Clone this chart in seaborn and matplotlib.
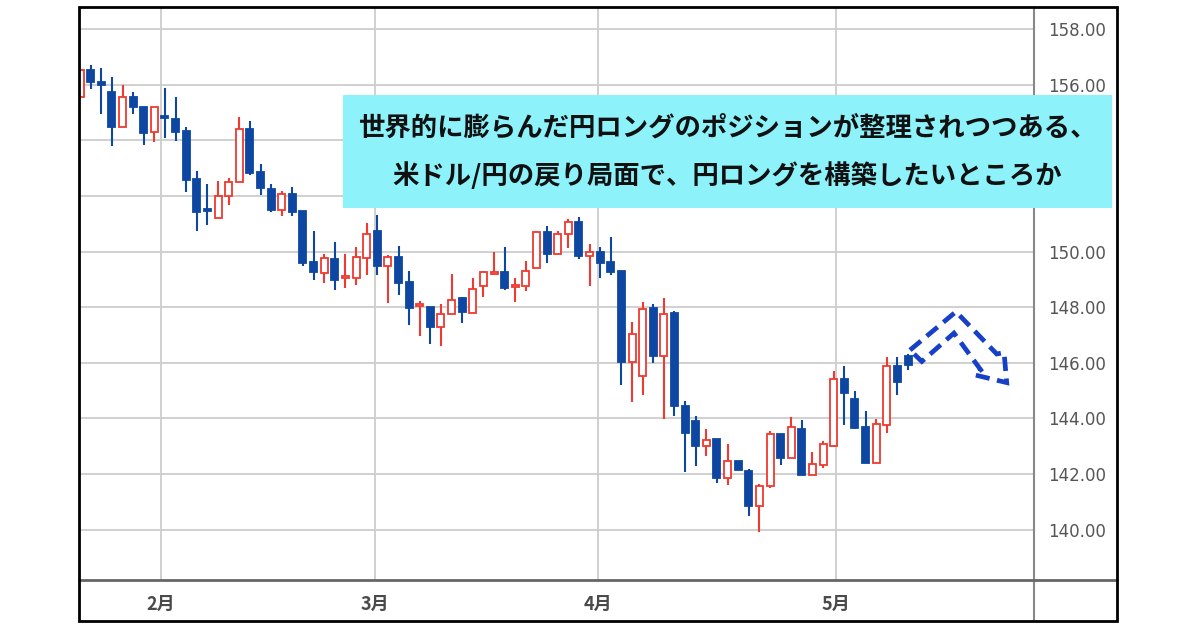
import matplotlib
matplotlib.use('Agg')
import matplotlib.pyplot as plt
import seaborn as sns
import numpy as np
import pandas as pd
from matplotlib.patches import Rectangle, Polygon
from matplotlib.lines import Line2D

# 日足 (USD/JPY), 1月下旬〜5月上旬
opens = [155.55, 156.55, 156.09, 155.76, 154.50, 155.55, 155.22, 154.29, 154.83, 154.76,
         154.33, 152.60, 151.50, 151.20, 151.99, 152.50, 154.40, 152.85, 152.24, 151.49,
         152.06, 151.45, 149.62, 149.23, 149.73, 149.05, 149.05, 149.77, 150.74, 149.48,
         149.80, 148.90, 148.05, 148.00, 147.29, 147.76, 148.33, 147.79, 148.76, 149.19,
         149.26, 148.73, 148.76, 149.41, 150.70, 149.91, 150.63, 151.06, 149.84, 149.98,
         149.62, 149.30, 146.03, 145.53, 147.97, 146.25, 147.79, 144.45, 143.91, 143.02,
         143.27, 141.87, 142.48, 142.12, 140.86, 141.58, 143.45, 142.59, 143.63, 141.98,
         142.33, 143.02, 145.42, 144.70, 143.70, 142.41, 143.77, 145.89, 146.25]
highs = [156.55, 156.73, 156.62, 156.27, 156.01, 155.76, 155.22, 155.22, 155.90, 155.55,
         154.47, 152.89, 152.42, 152.53, 152.64, 154.83, 154.69, 153.14, 152.42, 152.17,
         152.31, 151.45, 150.74, 149.91, 150.34, 149.91, 150.16, 151.02, 151.31, 149.87,
         150.20, 149.30, 148.22, 148.00, 148.11, 149.19, 148.37, 149.05, 149.30, 149.98,
         150.16, 149.05, 149.66, 150.74, 150.92, 150.74, 151.17, 151.24, 150.27, 150.16,
         150.52, 149.30, 147.47, 148.19, 148.11, 148.33, 147.86, 144.63, 144.09, 143.63,
         143.27, 143.09, 142.48, 142.19, 141.65, 143.55, 143.45, 144.06, 143.95, 142.80,
         143.20, 145.71, 145.89, 144.99, 144.27, 143.99, 146.21, 146.21, 146.32]
lows = [155.55, 155.84, 154.94, 153.79, 154.50, 154.94, 153.82, 153.93, 154.08, 153.97,
        152.14, 150.76, 150.95, 151.20, 151.67, 152.50, 152.75, 152.03, 151.42, 151.27,
        151.27, 149.48, 148.98, 148.87, 148.62, 148.69, 148.80, 149.16, 149.16, 148.15,
        148.44, 147.36, 146.97, 146.68, 146.61, 147.76, 147.43, 147.79, 148.37, 149.16,
        148.62, 148.19, 148.58, 149.41, 149.59, 149.87, 150.13, 149.73, 148.76, 149.05,
        149.16, 145.21, 144.60, 144.85, 146.00, 143.99, 144.09, 142.08, 142.30, 142.66,
        141.69, 141.62, 142.15, 140.50, 139.93, 141.51, 142.33, 142.59, 141.98, 141.98,
        142.23, 142.98, 143.77, 143.63, 142.41, 142.41, 143.48, 144.85, 145.75]
closes = [156.55, 156.09, 156.01, 154.50, 155.55, 155.22, 154.25, 155.19, 154.80, 154.29,
          152.57, 151.42, 151.45, 151.99, 152.50, 154.40, 152.82, 152.28, 151.49, 152.06,
          151.42, 149.59, 149.26, 149.77, 148.98, 149.12, 149.80, 150.63, 149.48, 149.80,
          148.87, 147.97, 148.08, 147.29, 147.76, 148.26, 147.83, 148.65, 149.26, 149.26,
          148.69, 148.80, 149.30, 150.70, 149.91, 150.63, 151.06, 149.84, 149.98, 149.59,
          149.26, 146.03, 147.04, 147.94, 146.25, 147.76, 144.45, 143.48, 143.02, 143.23,
          141.87, 142.48, 142.15, 140.86, 141.58, 143.45, 142.59, 143.70, 141.98, 142.37,
          143.09, 145.42, 144.92, 143.66, 142.41, 143.81, 145.89, 145.31, 145.92]

month_labels = ['2月', '3月', '4月', '5月']
month_pos = [7.6, 27.8, 48.8, 71.2]
price_ticks = [140, 142, 144, 146, 148, 150, 152, 154, 156, 158]
hidden_ticks = [152, 154]   # コメント枠の下に隠れる目盛

# 今後の想定（点線の矢印）
arrow_x = [78.19, 82.52, 86.36, 87.05, 87.30, 84.25, 84.85, 82.33, 79.30]
arrow_y = [146.46, 147.84, 146.32, 146.37, 145.29, 145.57, 145.75, 147.07, 146.05]

title_lines = ['世界的に膨らんだ円ロングのポジションが整理されつつある、',
               '米ドル/円の戻り局面で、円ロングを構築したいところか']

UP = '#f0392f'
DOWN = '#0d47a1'

sns.set_theme(style='white')
plt.rcParams['font.family'] = ['Noto Sans CJK JP', 'DejaVu Sans']

df = pd.DataFrame({'open': opens, 'high': highs, 'low': lows, 'close': closes})
df['idx'] = np.arange(len(df))
df['up'] = df['close'] >= df['open']
df['body_lo'] = df[['open', 'close']].min(axis=1)
df['body_h'] = (df['close'] - df['open']).abs().clip(lower=0.07)

fig = plt.figure(figsize=(12, 6.3), dpi=100)
ax = fig.add_axes([79 / 1200, 50 / 630, 955 / 1200, 573 / 630])

# ひげ
ax.vlines(df['idx'], df['low'], df['high'],
          colors=np.where(df['up'], UP, DOWN), linewidth=1.5, zorder=2)
# 実体（陽線は白抜き）
ax.bar(df['idx'], df['body_h'], bottom=df['body_lo'], width=0.66,
       color=np.where(df['up'], 'white', DOWN),
       edgecolor=np.where(df['up'], UP, DOWN), linewidth=1.3, zorder=3)

ax.add_patch(Polygon(np.column_stack([arrow_x, arrow_y]), closed=True, fill=False,
                     edgecolor='#1640c8', linewidth=3.4, linestyle=(0, (3, 1.6)),
                     joinstyle='miter', zorder=5))

ax.set_xlim(-0.1, 89.87)
ax.set_ylim(138.19, 158.8)
ax.set_xticks(month_pos)
ax.set_xticklabels(month_labels, fontsize=13, fontweight='bold', color='#4a4a4a')
ax.yaxis.tick_right()
ax.set_yticks(price_ticks)
ax.set_yticklabels(['' if p in hidden_ticks else f'{p:.2f}' for p in price_ticks],
                   fontsize=12, color='#555555', family='DejaVu Sans')
ax.tick_params(axis='x', length=0, pad=11)
ax.tick_params(axis='y', length=0, pad=10)
ax.grid(True, color='#cdcdcd', linewidth=1.3)
ax.set_axisbelow(True)
for s in ax.spines.values():
    s.set_visible(False)

# 枠線
fig.add_artist(Rectangle((79 / 1200, 1 - 621 / 630), 1038 / 1200, 614 / 630,
                         transform=fig.transFigure, fill=False,
                         edgecolor='black', linewidth=2, zorder=8))
fig.add_artist(Line2D([1034 / 1200] * 2, [1 - 7 / 630, 1 - 621 / 630],
                      transform=fig.transFigure, color='#888888', linewidth=1.5, zorder=7))
fig.add_artist(Line2D([79 / 1200, 1117 / 1200], [50 / 630] * 2,
                      transform=fig.transFigure, color='#666666', linewidth=2, zorder=7))

# コメント
fig.add_artist(Rectangle((343 / 1200, 1 - 208 / 630), 769 / 1200, 113 / 630,
                         transform=fig.transFigure, facecolor='#8ef2fb',
                         edgecolor='none', zorder=10))
fig.text(727.5 / 1200, 1 - 128 / 630, title_lines[0], ha='center', va='center',
         fontsize=19, fontweight='bold', color='#111111', zorder=11)
fig.text(727.5 / 1200, 1 - 176 / 630, title_lines[1], ha='center', va='center',
         fontsize=19, fontweight='bold', color='#111111', zorder=11)

fig.savefig('out.png', dpi=100)
